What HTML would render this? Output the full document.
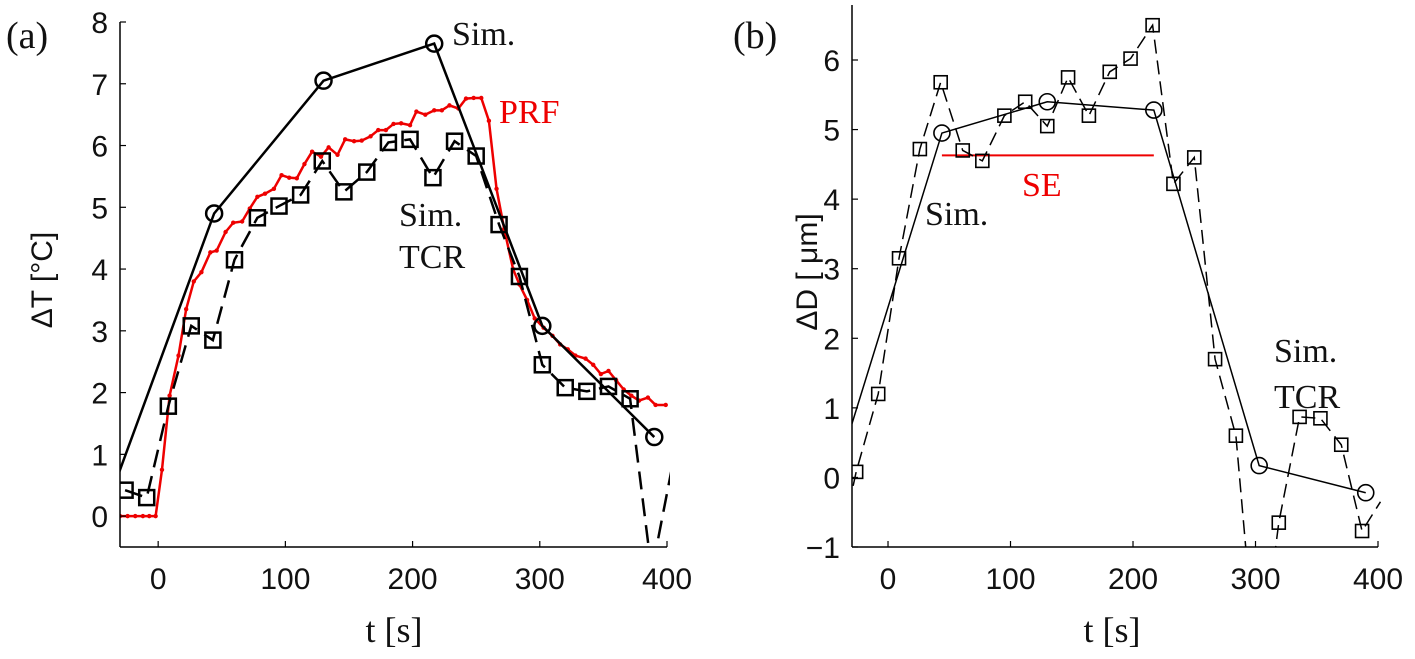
<!DOCTYPE html>
<html><head><meta charset="utf-8"><style>
html,body{margin:0;padding:0;background:#fff;overflow:hidden;width:1415px;height:659px}
svg{display:block}
.tk{font-family:"Liberation Sans",sans-serif;font-size:30px;fill:#111}
.sr{font-family:"Liberation Serif",serif;fill:#111}
</style></head><body>
<svg id="fig" width="1415" height="659" viewBox="0 0 1415 659">
<text class="sr" x="6" y="48" font-size="38">(a)</text>
<text class="sr" x="733" y="48" font-size="38">(b)</text>
<text class="tk" font-size="38" transform="translate(52,280) rotate(-90)" text-anchor="middle">ΔT  [°C]</text>
<text class="tk" font-size="38" transform="translate(817,272) rotate(-90)" text-anchor="middle">ΔD [ μm]</text>
<text class="sr" x="394" y="642" font-size="36" text-anchor="middle">t [s]</text>
<text class="sr" x="1112" y="642" font-size="36" text-anchor="middle">t [s]</text>
<g id="ga"></g>
<g id="gb"></g>
<text class="sr" x="452" y="45" font-size="34">Sim.</text>
<text class="sr" x="499" y="123" font-size="34" style="fill:#e00">PRF</text>
<text class="sr" x="399" y="226" font-size="34">Sim.</text>
<text class="sr" x="399" y="268" font-size="34">TCR</text>
<text class="sr" x="925" y="225" font-size="34">Sim.</text>
<text class="sr" x="1022" y="196" font-size="34" style="fill:#e00">SE</text>
<text class="sr" x="1274" y="362" font-size="34">Sim.</text>
<text class="sr" x="1274" y="408" font-size="34">TCR</text>
</svg>
<script>
const NS="http://www.w3.org/2000/svg";
// Panel (a) data
const aSimT=[-43,44,130,217,302,390];
const aSimV=[0.02,4.9,7.05,7.65,3.08,1.28];
const aSimMark=[false,true,true,true,true,true];
const aTcrT=[-26,-9,8,26,43,60,78,95,112,129,146,164,181,198,216,233,250,268,284,302,320,337,354,371,388,405];
const aTcrV=[0.42,0.3,1.78,3.08,2.85,4.15,4.83,5.02,5.2,5.75,5.25,5.57,6.05,6.1,5.48,6.07,5.83,4.72,3.88,2.45,2.08,2.02,2.1,1.9,-0.9,0.9];
const aPrfT=[-30,-24,-18,-12,-7,-2,3,9,16,22,28,34,41,46,53,59,66,72,78,84,91,97,103,109,115,121,128,134,141,147,154,160,167,173,179,185,191,198,203,210,217,223,229,236,242,248,254,260,266,272,279,284,290,296,303,310,316,322,328,336,342,348,354,360,366,372,378,385,391,399];
const aPrfV=[0,0,0,0,0,0,0.75,1.95,2.6,3.35,3.8,3.95,4.27,4.3,4.6,4.75,4.77,4.98,5.17,5.22,5.3,5.52,5.48,5.47,5.7,5.9,5.82,5.97,5.85,6.1,6.07,6.08,6.15,6.25,6.25,6.35,6.36,6.33,6.55,6.5,6.57,6.57,6.65,6.6,6.76,6.77,6.77,6.4,5.3,4.65,4.0,3.75,3.5,3.2,3.05,2.92,2.78,2.7,2.6,2.55,2.45,2.3,2.35,2.2,2.05,1.95,1.87,1.92,1.8,1.8];
const aYTicks=[0,1,2,3,4,5,6,7,8];
const aXTicks=[0,100,200,300,400];
// Panel (b) data
const bSimT=[-43,44,130,217,303,390];
const bSimV=[0.0,4.95,5.4,5.28,0.17,-0.22];
const bSimMark=[false,true,true,true,true,true];
const bTcrT=[-43,-26,-8,9,26,43,61,77,95,112,130,147,164,181,198,216,233,250,267,284,302,319,336,353,370,387,402];
const bTcrV=[-1.3,0.08,1.2,3.15,4.72,5.68,4.7,4.55,5.2,5.4,5.05,5.75,5.2,5.83,6.02,6.5,4.22,4.6,1.7,0.6,-3.0,-0.65,0.87,0.85,0.47,-0.77,-0.35];
const bSeT=[44,217];
const bSeV=[4.63,4.63];
const bYTicks=[-1,0,1,2,3,4,5,6];
const bXTicks=[0,100,200,300,400];

function el(tag,attrs,parent){const e=document.createElementNS(NS,tag);for(const k in attrs)e.setAttribute(k,attrs[k]);parent.appendChild(e);return e;}

function panel(g,id,ax){
  const X=t=>ax.x0+(t-ax.tmin)/(ax.tmax-ax.tmin)*(ax.x1-ax.x0);
  const Y=v=>ax.y0-(v-ax.vmin)/(ax.vmax-ax.vmin)*(ax.y0-ax.y1);
  const cp=el('clipPath',{id:'clip'+id},g);
  el('rect',{x:ax.x0,y:0,width:ax.x1-ax.x0+3,height:ax.y0},cp);
  const c=el('g',{'clip-path':'url(#clip'+id+')'},g);
  return {X,Y,c,ax};
}
function axes(g,ax,P,yt,xt,pre){
  const l=el('line',{x1:ax.x0,y1:ax.y0,x2:ax.x0,y2:ax.ytop,stroke:'#000','stroke-width':1.5},g);
  
  const b=el('line',{x1:ax.x0,y1:ax.y0,x2:ax.x1,y2:ax.y0,stroke:'#000','stroke-width':1.5},g);
  
  yt.forEach(v=>{const y=P.Y(v);
    el('line',{x1:ax.x0,y1:y,x2:ax.x0+6,y2:y,stroke:'#000','stroke-width':1.2},g);
    const t=el('text',{x:ax.x0-12,y:y+11,'text-anchor':'end',class:'tk'},g);t.textContent=(v<0?'\u2212'+(-v):v);
    });
  xt.forEach(v=>{const x=P.X(v);
    el('line',{x1:x,y1:ax.y0,x2:x,y2:ax.y0-6,stroke:'#000','stroke-width':1.2},g);
    const t=el('text',{x:x,y:ax.y0+42,'text-anchor':'middle',class:'tk'},g);t.textContent=v;
    });
}
function line(P,T,V,attrs,name){
  const p=el('polyline',Object.assign({points:T.map((t,i)=>P.X(t)+','+P.Y(V[i])).join(' '),fill:'none'},attrs),P.c);
  return p;
}
function squares(P,T,V,s,sw,name){T.forEach((t,i)=>{if(t>P.ax.tmax||t<P.ax.tmin)return;const r=el('rect',{x:P.X(t)-s/2,y:P.Y(V[i])-s/2,width:s,height:s,fill:'none',stroke:'#000','stroke-width':sw},P.c);
  });}
function circles(P,T,V,M,r,sw,name){T.forEach((t,i)=>{if(!M[i])return;const c=el('circle',{cx:P.X(t),cy:P.Y(V[i]),r:r,fill:'none',stroke:'#000','stroke-width':sw},P.c);
  });}

// Panel a
const axA={x0:120,x1:667,y0:547,y1:22,ytop:22,tmin:-30,tmax:400,vmin:-0.5,vmax:8};
const ga=document.getElementById('ga');
const PA=panel(ga,'a',axA);
line(PA,aPrfT,aPrfV,{stroke:'#e00','stroke-width':2.5},'prf-line');
aPrfT.forEach((t,i)=>{const d=el('circle',{cx:PA.X(t),cy:PA.Y(aPrfV[i]),r:2.2,fill:'#e00'},PA.c);
  });
line(PA,aTcrT,aTcrV,{stroke:'#000','stroke-width':2.5,'stroke-dasharray':'18 9'},'tcr-line-a');
squares(PA,aTcrT,aTcrV,15,2.5,'tcr-marker-a');
line(PA,aSimT,aSimV,{stroke:'#000','stroke-width':2.5},'sim-line-a');
circles(PA,aSimT,aSimV,aSimMark,8,2.5,'sim-marker-a');
axes(ga,axA,PA,aYTicks,aXTicks,'a');

// Panel b
const axB={x0:852,x1:1378,y0:547,y1:60,ytop:5,tmin:-29.4,tmax:400,vmin:-1,vmax:6};
const gb=document.getElementById('gb');
const PB=panel(gb,'b',axB);
line(PB,bSeT,bSeV,{stroke:'#e00','stroke-width':2},'se-line');
line(PB,bTcrT,bTcrV,{stroke:'#000','stroke-width':1.5,'stroke-dasharray':'14 7'},'tcr-line-b');
squares(PB,bTcrT,bTcrV,13,1.6,'tcr-marker-b');
line(PB,bSimT,bSimV,{stroke:'#000','stroke-width':1.5},'sim-line-b');
circles(PB,bSimT,bSimV,bSimMark,8,1.6,'sim-marker-b');
axes(gb,axB,PB,bYTicks,bXTicks,'b');
</script>
</body></html>
